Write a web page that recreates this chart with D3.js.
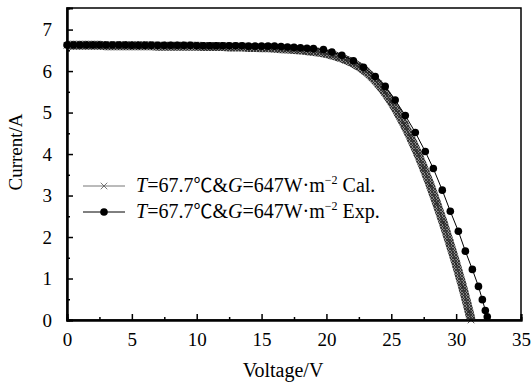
<!DOCTYPE html>
<html>
<head>
<meta charset="utf-8">
<script src="https://cdn.jsdelivr.net/npm/d3@7"></script>
<style>
  body { margin: 0; background: #fff; }
  svg text { font-family: "Liberation Serif", "Times New Roman", serif; fill: #000; }
  svg text .cjk { font-family: "Noto Sans CJK SC", sans-serif; }
</style>
</head>
<body>
<div id="chart"></div>
<script>
const width = 532;
const height = 384;

// calculated curve (Cal.)
const calVoltage = [0, 0.5, 1, 1.5, 2, 2.5, 3, 3.5, 4, 4.5, 5, 5.5, 6, 6.5, 7, 7.5, 8, 8.5, 9, 9.5,
  10, 10.5, 11, 11.5, 12, 12.5, 13, 13.5, 14, 14.5, 15, 15.5, 16, 16.5, 17, 17.5, 18, 18.5, 19, 19.5,
  20, 20.5, 21, 21.5, 22, 22.5, 23, 23.5, 24, 24.5, 25, 25.5, 26, 26.5, 27, 27.5, 28, 28.5, 29, 29.5,
  30, 30.5, 31, 31.15];
const calCurrent = [6.62, 6.62, 6.62, 6.62, 6.62, 6.62, 6.61, 6.61, 6.61, 6.61, 6.61, 6.61, 6.61, 6.61, 6.60, 6.60, 6.60, 6.60, 6.60, 6.60,
  6.60, 6.59, 6.59, 6.59, 6.59, 6.58, 6.58, 6.58, 6.57, 6.57, 6.56, 6.56, 6.55, 6.54, 6.53, 6.52, 6.51, 6.49, 6.47, 6.45,
  6.42, 6.38, 6.33, 6.27, 6.20, 6.11, 6.00, 5.86, 5.69, 5.49, 5.26, 5.00, 4.71, 4.39, 4.04, 3.66, 3.25, 2.81, 2.35, 1.86,
  1.35, 0.80, 0.20, 0.0];

// measured points (Exp.)
const expVoltage = [0, 0.5, 1, 1.5, 2, 2.5, 3, 3.5, 4, 4.5, 5, 5.5, 6, 6.5, 7, 7.5, 8, 8.5, 9, 9.5,
  10, 10.5, 11, 11.5, 12, 12.5, 13, 13.5, 14, 14.5, 15, 15.5, 16, 16.5, 17, 17.5, 18, 18.5, 19,
  19.77, 20.42, 21.19, 22.08, 22.86, 23.76, 24.53, 25.3, 26.08, 26.85, 27.62, 28.24, 28.93, 29.55,
  30.17, 30.71, 31.25, 31.72, 32.02, 32.25, 32.4];
const expCurrent = [6.63, 6.63, 6.63, 6.63, 6.63, 6.63, 6.63, 6.63, 6.63, 6.63, 6.62, 6.62, 6.62, 6.62, 6.62, 6.62, 6.62, 6.62, 6.62, 6.62,
  6.61, 6.61, 6.61, 6.61, 6.61, 6.61, 6.61, 6.61, 6.60, 6.60, 6.60, 6.60, 6.60, 6.59, 6.58, 6.57, 6.56, 6.55, 6.54,
  6.52, 6.46, 6.38, 6.25, 6.09, 5.87, 5.63, 5.30, 4.93, 4.52, 4.06, 3.65, 3.13, 2.62,
  2.14, 1.66, 1.22, 0.81, 0.49, 0.23, 0.08];

const xTicks = [0, 5, 10, 15, 20, 25, 30, 35];
const yTicks = [0, 1, 2, 3, 4, 5, 6, 7];

const calData = calVoltage.map((v, i) => ({ v: v, i: calCurrent[i] }));
const expData = expVoltage.map((v, i) => ({ v: v, i: expCurrent[i] }));

const plotLeft = 67, plotRight = 521, plotTop = 8, plotBottom = 320;

const x = d3.scaleLinear().domain([0, 35]).range([plotLeft, plotRight]);
const y = d3.scaleLinear().domain([0, 7.52]).range([plotBottom, plotTop]);

const svg = d3.select("#chart")
  .append("svg")
  .attr("width", width)
  .attr("height", height);

// texture for the dense calculated band
const defs = svg.append("defs");
const pat = defs.append("pattern")
  .attr("id", "xhatch")
  .attr("patternUnits", "userSpaceOnUse")
  .attr("width", 3)
  .attr("height", 3);
pat.append("rect").attr("width", 3).attr("height", 3).attr("fill", "#8a8a8a");
pat.append("path").attr("d", "M0,0L3,3M3,0L0,3").attr("stroke", "#222").attr("stroke-width", 0.8);

// frame
svg.append("rect")
  .attr("x", plotLeft).attr("y", plotTop)
  .attr("width", plotRight - plotLeft).attr("height", plotBottom - plotTop)
  .attr("fill", "none").attr("stroke", "#000").attr("stroke-width", 1.5);

const line = d3.line().x(d => x(d.v)).y(d => y(d.i));

// Cal band
svg.append("path")
  .datum(calData)
  .attr("d", line)
  .attr("fill", "none")
  .attr("stroke", "url(#xhatch)")
  .attr("stroke-width", 9);

svg.append("path")
  .datum(calData)
  .attr("d", line)
  .attr("fill", "none")
  .attr("stroke", "#333")
  .attr("stroke-width", 1.2);

const cross = d3.symbol().type(d3.symbolX).size(30);
svg.append("g").selectAll("path")
  .data(calData)
  .enter()
  .append("path")
  .attr("d", cross)
  .attr("transform", d => `translate(${x(d.v)},${y(d.i)})`)
  .attr("fill", "none")
  .attr("stroke", "#222")
  .attr("stroke-width", 0.8);

// Exp line and dots
svg.append("path")
  .datum(expData)
  .attr("d", line)
  .attr("fill", "none")
  .attr("stroke", "#000")
  .attr("stroke-width", 1);

svg.append("g").selectAll("circle")
  .data(expData)
  .enter()
  .append("circle")
  .attr("cx", d => x(d.v))
  .attr("cy", d => y(d.i))
  .attr("r", 3.8)
  .attr("fill", "#000");

// axes with inward ticks
const xAxis = svg.append("g").attr("transform", `translate(0,${plotBottom})`);
xAxis.call(d3.axisBottom(x).tickValues(xTicks).tickSize(-6).tickPadding(13).tickFormat(d3.format("d")));
xAxis.append("g").call(d3.axisBottom(x).tickValues(d3.range(2.5, 35, 5)).tickSize(-3).tickFormat(""));

const yAxis = svg.append("g").attr("transform", `translate(${plotLeft},0)`);
yAxis.call(d3.axisLeft(y).tickValues(yTicks).tickSize(-6).tickPadding(15).tickFormat(d3.format("d")));
yAxis.append("g").call(d3.axisLeft(y).tickValues(d3.range(0.5, 7.5, 1)).tickSize(-3).tickFormat(""));

svg.selectAll(".domain").attr("stroke-width", 2).attr("stroke", "#000");
svg.selectAll(".tick line").attr("stroke-width", 1.5).attr("stroke", "#000");
svg.selectAll(".tick text").style("font-size", "19px");

// axis titles
svg.append("text")
  .attr("x", 283).attr("y", 377)
  .attr("text-anchor", "middle")
  .style("font-size", "20px")
  .text("Voltage/V");

svg.append("text")
  .attr("transform", "translate(22,152) rotate(-90)")
  .attr("text-anchor", "middle")
  .style("font-size", "19px")
  .text("Current/A");

// legend
const legendRows = [
  { label: "Cal.", y: 186, color: "#777", mark: "x" },
  { label: "Exp.", y: 212, color: "#000", mark: "o" }
];

legendRows.forEach(r => {
  svg.append("line")
    .attr("x1", 83).attr("x2", 125)
    .attr("y1", r.y).attr("y2", r.y)
    .attr("stroke", r.color).attr("stroke-width", 1);
  if (r.mark === "x") {
    svg.append("path").attr("d", cross).attr("transform", `translate(104,${r.y})`)
      .attr("fill", "none").attr("stroke", "#555").attr("stroke-width", 0.8);
  } else {
    svg.append("circle").attr("cx", 104).attr("cy", r.y).attr("r", 3.8).attr("fill", "#000");
  }
  const t = svg.append("text")
    .attr("x", 136).attr("y", r.y + 6)
    .style("font-size", "20px");
  t.append("tspan").attr("font-style", "italic").text("T");
  t.append("tspan").text("=67.7");
  t.append("tspan").attr("class", "cjk").style("font-size", "19px").text("℃");
  t.append("tspan").text("&");
  t.append("tspan").attr("font-style", "italic").text("G");
  t.append("tspan").text("=647W·m");
  t.append("tspan").style("font-size", "12px").attr("dy", -8).text("−2");
  t.append("tspan").attr("dy", 8).text(" " + r.label);
});
</script>
</body>
</html>
